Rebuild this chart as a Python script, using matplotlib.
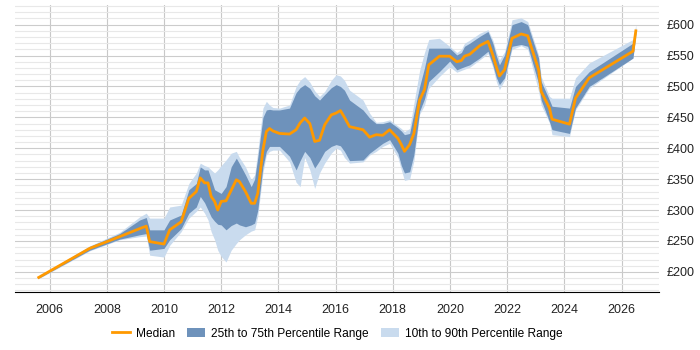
import numpy as np
import matplotlib.pyplot as plt
from matplotlib.ticker import MultipleLocator, FuncFormatter

plt.rcParams['font.family'] = ['Liberation Sans', 'DejaVu Sans']

# decimal years
years = [2005.62, 2007.40, 2008.45, 2009.15, 2009.38, 2009.50, 2010.00, 2010.20, 2010.60, 2010.87,
         2011.13, 2011.27, 2011.42, 2011.54, 2011.65, 2011.77, 2011.88, 2012.00, 2012.17, 2012.35,
         2012.53, 2012.64, 2012.85, 2013.05, 2013.17, 2013.28, 2013.46, 2013.58, 2013.69, 2013.81,
         2014.04, 2014.39, 2014.62, 2014.76, 2014.92, 2015.10, 2015.27, 2015.44, 2015.62, 2015.85,
         2016.02, 2016.17, 2016.31, 2016.49, 2016.96, 2017.19, 2017.42, 2017.65, 2017.89, 2018.18,
         2018.30, 2018.41, 2018.59, 2018.74, 2018.94, 2019.11, 2019.26, 2019.63, 2019.99, 2020.24,
         2020.40, 2020.51, 2020.69, 2021.04, 2021.33, 2021.50, 2021.62, 2021.73, 2021.91, 2022.17,
         2022.49, 2022.72, 2023.10, 2023.19, 2023.48, 2023.57, 2024.18, 2024.39, 2024.87, 2026.40,
         2026.50]

median = [191, 238, 257, 270, 274, 249, 245, 268, 281, 319,
          330, 352, 344, 344, 322, 314, 300, 314, 315, 332,
          349, 346, 330, 311, 311, 327, 397, 427, 432, 428,
          424, 423, 430, 441, 449, 440, 411, 413, 438, 454,
          457, 461, 450, 435, 430, 418, 422, 421, 430, 416,
          406, 395, 406, 424, 478, 495, 535, 549, 549, 540,
          542, 549, 552, 566, 573, 551, 532, 517, 527, 578,
          585, 582, 527, 492, 465, 447, 439, 481, 514, 557,
          590]

p25 = [190, 235, 253, 260, 262, 235, 238, 252, 270, 295,
       305, 322, 312, 300, 289, 282, 277, 276, 268, 275,
       279, 276, 273, 276, 279, 300, 370, 395, 403, 403,
       403, 387, 365, 380, 395, 385, 368, 380, 395, 403,
       406, 404, 395, 380, 381, 392, 400, 408, 414, 392,
       372, 360, 362, 390, 460, 480, 508, 524, 541, 527,
       530, 532, 535, 546, 557, 535, 515, 503, 514, 565,
       568, 565, 505, 478, 443, 430, 424, 465, 500, 546,
       585]

p75 = [192, 241, 262, 284, 288, 268, 268, 284, 292, 333,
       343, 370, 365, 365, 350, 333, 330, 327, 338, 370,
       384, 375, 357, 338, 350, 385, 450, 462, 463, 462,
       462, 465, 490, 498, 503, 497, 485, 478, 487, 498,
       503, 500, 494, 478, 462, 449, 440, 440, 443, 433,
       428, 422, 424, 457, 500, 530, 562, 562, 562, 551,
       555, 565, 570, 581, 589, 570, 550, 535, 551, 600,
       605, 600, 546, 508, 478, 468, 465, 500, 524, 570,
       595]

p10 = [189, 234, 252, 257, 258, 227, 224, 243, 265, 287,
       298, 305, 295, 284, 265, 252, 235, 225, 216, 235,
       246, 252, 260, 266, 268, 290, 360, 389, 395, 397,
       397, 378, 345, 338, 385, 365, 335, 360, 376, 392,
       400, 397, 385, 376, 378, 389, 395, 403, 408, 385,
       365, 348, 350, 380, 455, 470, 497, 516, 532, 523,
       526, 528, 531, 543, 553, 531, 508, 495, 510, 560,
       566, 560, 492, 470, 441, 422, 419, 462, 497, 546,
       580]

p90 = [193, 242, 264, 289, 295, 287, 287, 305, 308, 343,
       360, 376, 372, 370, 365, 360, 365, 372, 381, 392,
       395, 385, 370, 349, 357, 395, 465, 476, 470, 466,
       465, 470, 500, 510, 516, 507, 493, 484, 492, 510,
       519, 517, 510, 494, 478, 457, 442, 443, 446, 436,
       432, 427, 432, 473, 526, 555, 576, 578, 565, 555,
       560, 570, 575, 586, 592, 575, 556, 543, 556, 608,
       611, 605, 551, 516, 484, 481, 481, 514, 538, 576,
       600]

year_ticks = list(range(2006, 2027, 2))

fig = plt.figure(figsize=(7, 3.5), dpi=100)
ax = fig.add_axes([0.021, 0.166, 0.92, 0.82])

ax.fill_between(years, p10, p90, color='#c9dbee', lw=0, label='10th to 90th Percentile Range')
ax.fill_between(years, p25, p75, color='#6e92bb', lw=0, label='25th to 75th Percentile Range')
ax.plot(years, median, color='#ff9900', lw=2, label='Median')

ax.set_xlim(2004.78, 2027.3)
ax.set_ylim(167.6, 632)
ax.set_xticks(year_ticks)
ax.yaxis.set_major_locator(MultipleLocator(50))
ax.yaxis.set_minor_locator(MultipleLocator(10))
ax.yaxis.set_major_formatter(FuncFormatter(lambda v, p: '£%d' % v))
ax.yaxis.tick_right()
ax.grid(axis='x', color='#c8c8c8', lw=0.8)
ax.grid(axis='y', which='major', color='#cccccc', lw=0.8)
ax.grid(axis='y', which='minor', color='#e8e8e8', lw=0.8)
ax.set_axisbelow(True)
for s in ['left', 'right', 'top']:
    ax.spines[s].set_visible(False)
ax.spines['bottom'].set_color('black')
ax.tick_params(axis='both', which='both', length=0, labelsize=9, colors='#222222')
ax.tick_params(axis='y', pad=6)
ax.tick_params(axis='x', pad=9)

h, l = ax.get_legend_handles_labels()
order = [2, 1, 0]
fig.legend([h[i] for i in order], [l[i] for i in order], loc='center', bbox_to_anchor=(0.482, 0.047),
           ncol=3, frameon=False, fontsize=8.6, handlelength=1.5, columnspacing=1.0, handletextpad=0.5)

fig.savefig('out.png', dpi=100)
